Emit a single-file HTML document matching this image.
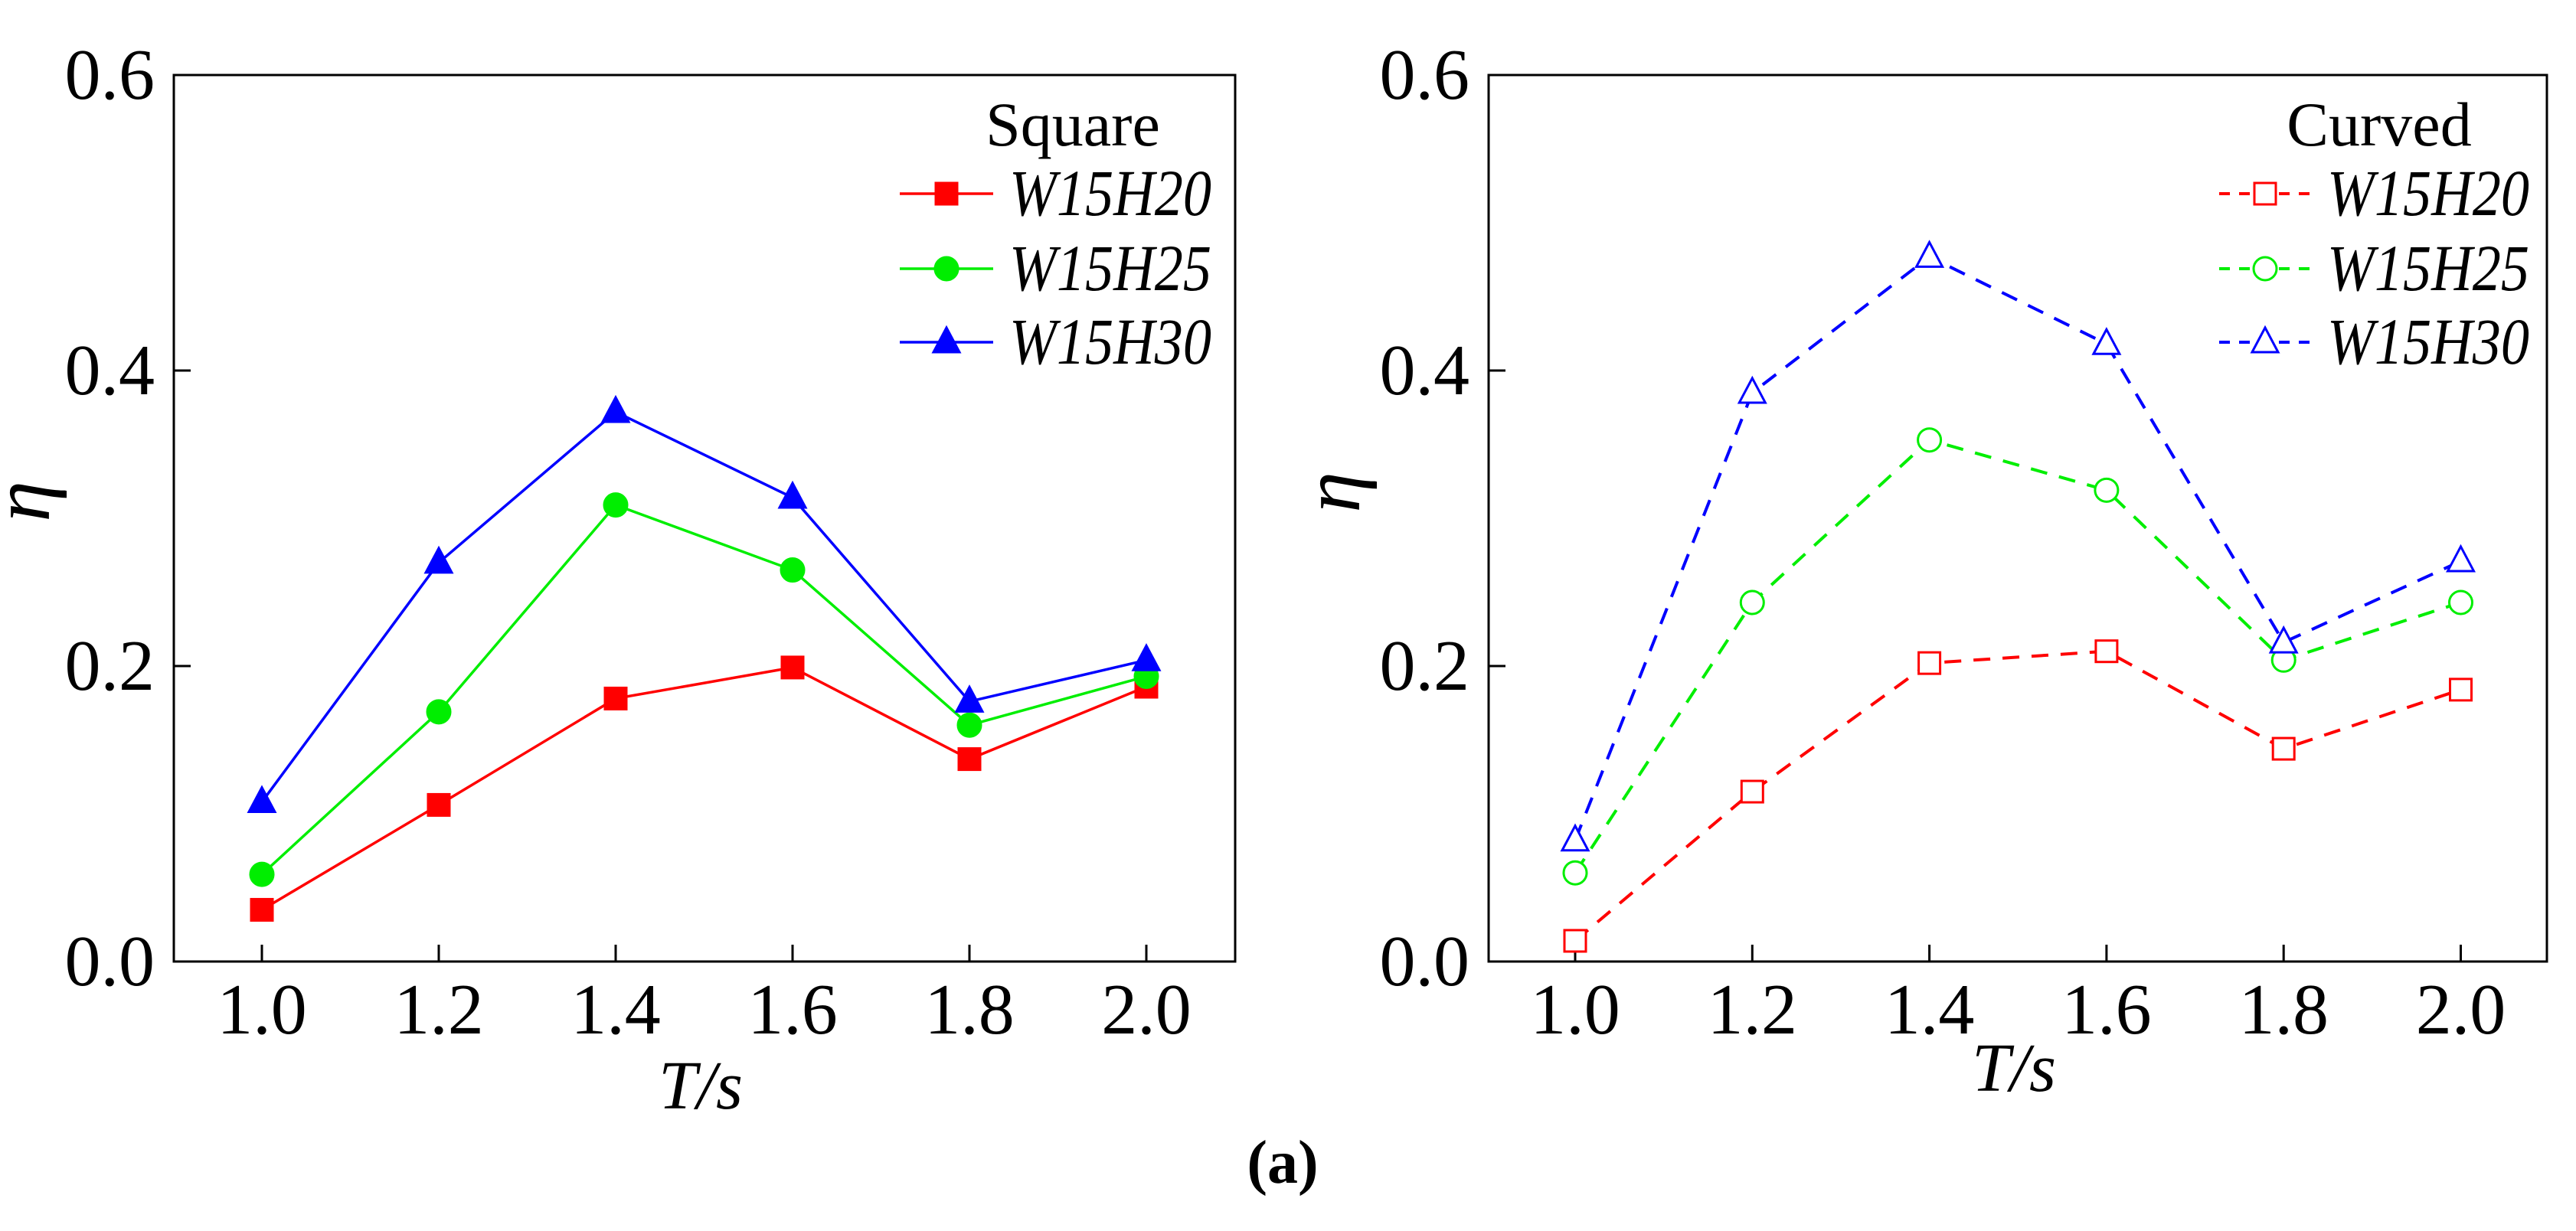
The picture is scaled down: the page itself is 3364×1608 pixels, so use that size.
<!DOCTYPE html>
<html><head><meta charset="utf-8"><style>
html,body{margin:0;padding:0;background:#fff;}
svg{display:block;font-family:"Liberation Serif","Times New Roman",serif;}
</style></head><body>
<svg id="fig" width="3364" height="1608" viewBox="0 0 3364 1608" xmlns="http://www.w3.org/2000/svg">
<text x="1675" y="1545" font-size="80" font-weight="bold" text-anchor="middle">(a)</text>
</svg>
<script>
const categories = [1.0, 1.2, 1.4, 1.6, 1.8, 2.0];
const xTickLabels = ["1.0","1.2","1.4","1.6","1.8","2.0"];
const yTicks = [0, 0.2, 0.4, 0.6];
const yTickLabels = ["0.0","0.2","0.4","0.6"];
const seriesNames = ["W15H20","W15H25","W15H30"];
const squareH20 = [0.035, 0.106, 0.178, 0.199, 0.137, 0.186];
const squareH25 = [0.059, 0.169, 0.309, 0.265, 0.160, 0.193];
const squareH30 = [0.108, 0.270, 0.372, 0.314, 0.176, 0.204];
const curvedH20 = [0.014, 0.115, 0.202, 0.210, 0.144, 0.184];
const curvedH25 = [0.060, 0.243, 0.353, 0.319, 0.204, 0.243];
const curvedH30 = [0.082, 0.385, 0.477, 0.418, 0.216, 0.271];

const NS = "http://www.w3.org/2000/svg";
const svg = document.getElementById('fig');
function mk(tag, attrs, parent){
  const e = document.createElementNS(NS, tag);
  for (const k in attrs) e.setAttribute(k, attrs[k]);
  (parent||svg).appendChild(e);
  return e;
}
const colors = ["#ff0000","#00ee00","#0000ff"];
const shapes = ["square","circle","triangle"];

function marker(g, shape, cx, cy, color, filled){
  const fill = filled ? color : "#fff";
  let m;
  if (shape === "square") {
    m = mk('rect', {x:cx-14, y:cy-14, width:28, height:28, fill:fill, stroke:color, 'stroke-width':3}, g);
  } else if (shape === "circle") {
    m = mk('circle', {cx:cx, cy:cy, r:15, fill:fill, stroke:color, 'stroke-width':3}, g);
  } else {
    m = mk('polygon', {points:`${cx},${cy-19} ${cx-17},${cy+13} ${cx+17},${cy+13}`, fill:fill, stroke:color, 'stroke-width':3}, g);
  }
  return m;
}

function panel(opt){
  const L=opt.left, R=opt.right, T=98, B=1256;
  const x0=opt.x0, dx=opt.dx;
  const xs = v => x0 + (v-1.0)/0.2*dx;
  const ys = v => B - v/0.6*(B-T);
  const g = mk('g', {});
  
  
  const frame = mk('rect', {x:L, y:T, width:R-L, height:B-T, fill:'none', stroke:'#000', 'stroke-width':3}, g);
  
  
  yTicks.forEach((v,i)=>{
    const y = ys(v);
    const t = mk('line', {x1:L, x2:L+22, y1:y, y2:y, stroke:'#000','stroke-width':3}, g);
    
    
    const lb = mk('text', {x:L-25, y:y+31, 'font-size':94, 'text-anchor':'end'}, g);
    lb.textContent = yTickLabels[i];
    
    
  });
  categories.forEach((v,i)=>{
    const x = xs(v);
    const t = mk('line', {x1:x, x2:x, y1:B, y2:B-22, stroke:'#000','stroke-width':3}, g);
    
    
    const lb = mk('text', {x:x, y:1350, 'font-size':94, 'text-anchor':'middle'}, g);
    lb.textContent = xTickLabels[i];
    
    
  });
  const yl = mk('text', {x:0, y:0, 'font-size':108, 'font-style':'italic', 'text-anchor':'middle', transform:`translate(${opt.etaX},${opt.etaY}) rotate(-90)`}, g);
  yl.textContent = "η";
  
  
  const xl = mk('text', {x:opt.tsX, y:opt.tsY, 'font-size':90, 'font-style':'italic', 'text-anchor':'middle'}, g);
  xl.textContent = "T/s";
  
  

  opt.data.forEach((vals, si)=>{
    const sg = mk('g', {}, g);
    
    
    const pts = vals.map((v,i)=>`${xs(categories[i])},${ys(v)}`).join(' ');
    const pl = mk('polyline', {points:pts, fill:'none', stroke:colors[si], 'stroke-width':opt.dashed?4:3.5, 'stroke-dasharray':opt.dashed?'22 16':'none'}, sg);
    
    
    vals.forEach((v,i)=>{
      const m = marker(sg, shapes[si], xs(categories[i]), ys(v), colors[si], !opt.dashed);
      
      
    });
  });

  const lg = mk('g', {}, g);
  
  
  const title = mk('text', {x:opt.legTitleX, y:190, 'font-size':82, 'text-anchor':'middle'}, lg);
  title.textContent = opt.title;
  
  
  const rows = [253, 351, 447];
  seriesNames.forEach((n, si)=>{
    const eg = mk('g', {}, lg);
    
    
    const y = rows[si];
    mk('line', {x1:opt.legX1, x2:opt.legX2, y1:y, y2:y, stroke:colors[si], 'stroke-width':opt.dashed?4:3.5, 'stroke-dasharray':opt.dashed?'14 12':'none'}, eg);
    marker(eg, shapes[si], (opt.legX1+opt.legX2)/2, y, colors[si], !opt.dashed);
    const t = mk('text', {x:opt.legTextX, y:y+28, 'font-size':86, 'font-style':'italic', textLength:264, lengthAdjust:'spacingAndGlyphs'}, eg);
    t.textContent = n;
  });
}

panel({name:'square-chart', left:227, right:1613, x0:342, dx:231, etaX:64, etaY:655,
  tsX:915, tsY:1448, data:[squareH20, squareH25, squareH30], dashed:false, title:'Square',
  legTitleX:1401, legX1:1175, legX2:1297, legTextX:1318});
panel({name:'curved-chart', left:1944, right:3326, x0:2057, dx:231.3, etaX:1775, etaY:643,
  tsX:2630, tsY:1425, data:[curvedH20, curvedH25, curvedH30], dashed:true, title:'Curved',
  legTitleX:3107, legX1:2898, legX2:3018, legTextX:3039});
</script>
</body></html>
